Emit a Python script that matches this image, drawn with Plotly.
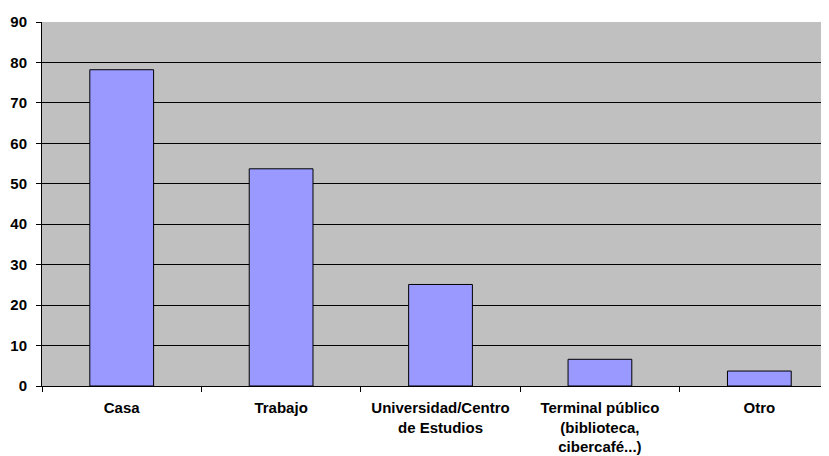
import plotly.graph_objects as go

categories = ["Casa", "Trabajo", "Universidad/Centro<br>de Estudios",
              "Terminal público<br>(biblioteca,<br>cibercafé...)", "Otro"]
values = [78.2, 53.7, 25.1, 6.6, 3.7]
y_ticks = [0, 10, 20, 30, 40, 50, 60, 70, 80, 90]

fig = go.Figure(go.Bar(
    x=categories, y=values, width=0.4,
    marker=dict(color="#9999FF", line=dict(color="#000000", width=1)),
))

# page body has an 8px default margin; compensate so the plot sits where the reference has it
fig.update_layout(
    width=821, height=448,
    margin=dict(l=34, r=0, t=14, b=70),
    paper_bgcolor="#FFFFFF", plot_bgcolor="#C0C0C0",
    showlegend=False,
    font=dict(family="Liberation Sans, Arial, sans-serif", color="#000000"),
    bargap=0.6,
)
fig.update_xaxes(
    range=[-0.5, 4.437], showline=True, linecolor="#000000", linewidth=1,
    ticks="outside", tickson="boundaries", ticklen=5, tickcolor="#000000",
    tickfont=dict(size=15, family="Liberation Sans, Arial, sans-serif", weight="bold"),
    showgrid=False, fixedrange=True, automargin=False, ticklabelstandoff=8,
)
fig.update_yaxes(
    range=[0, 90], tickvals=y_ticks, showline=True, linecolor="#000000", linewidth=1,
    ticks="outside", ticklen=5, tickcolor="#000000",
    showgrid=True, gridcolor="#000000", gridwidth=1, zeroline=False,
    tickfont=dict(size=15, family="Liberation Sans, Arial, sans-serif", weight="bold"),
    automargin=False, ticklabelstandoff=6,
)

fig.write_html("out.html")
